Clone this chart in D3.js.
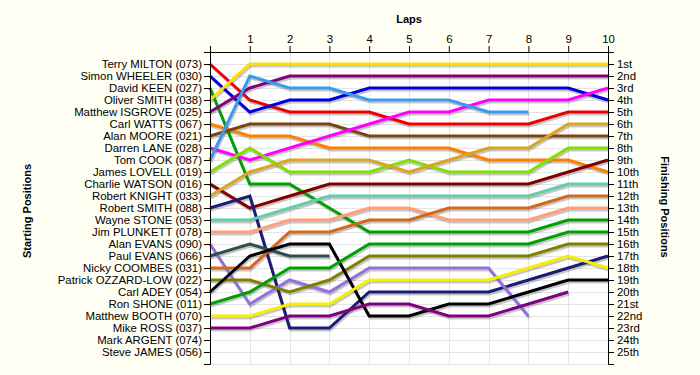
<!DOCTYPE html>
<html>
<head>
<meta charset="utf-8">
<script src="https://cdn.jsdelivr.net/npm/d3@7"></script>
<style>
body { margin: 0; background: #fefef2; }
svg { display: block; font-family: Arial, "Liberation Sans", sans-serif; }
</style>
</head>
<body>
<script>
// DRIVERS in starting order
var drivers = [
    "Terry MILTON (073)", "Simon WHEELER (030)", "David KEEN (027)", "Oliver SMITH (038)",
    "Matthew ISGROVE (025)", "Carl WATTS (067)", "Alan MOORE (021)", "Darren LANE (028)",
    "Tom COOK (087)", "James LOVELL (019)", "Charlie WATSON (016)", "Robert KNIGHT (033)",
    "Robert SMITH (088)", "Wayne STONE (053)", "Jim PLUNKETT (078)", "Alan EVANS (090)",
    "Paul EVANS (066)", "Nicky COOMBES (031)", "Patrick OZZARD-LOW (022)", "Carl ADEY (054)",
    "Ron SHONE (011)", "Matthew BOOTH (070)", "Mike ROSS (037)", "Mark ARGENT (074)",
    "Steve JAMES (056)"
];

var finishLabels = [
    "1st", "2nd", "3rd", "4th", "5th", "6th", "7th", "8th", "9th", "10th",
    "11th", "12th", "13th", "14th", "15th", "16th", "17th", "18th", "19th", "20th",
    "21st", "22nd", "23rd", "24th", "25th"
];

var laps = [0, 1, 2, 3, 4, 5, 6, 7, 8, 9, 10];

// position of each driver at the end of each lap (lap 0 = grid)
var positions = [
    [1, 4, 5, 5, 5, 6, 6, 6, 6, 5, 5],
    [2, 5, 4, 4, 3, 3, 3, 3, 3, 3, 4],
    [3, 11, 11, 13, 15, 15, 15, 15, 15, 14, 14],
    [4, 1, 1, 1, 1, 1, 1, 1, 1, 1, 1],
    [5, 3, 2, 2, 2, 2, 2, 2, 2, 2, 2],
    [6, 7, 7, 8, 8, 8, 8, 9, 9, 9, 10],
    [7, 6, 6, 6, 7, 7, 7, 7, 7, 7, 7],
    [8, 9, 8, 7, 6, 5, 5, 4, 4, 4, 3],
    [9, 2, 3, 3, 4, 4, 4, 5, 5],
    [10, 8, 10, 10, 10, 9, 10, 10, 10, 8, 8],
    [11, 13, 12, 11, 11, 11, 11, 11, 11, 10, 9],
    [12, 10, 9, 9, 9, 10, 9, 8, 8, 6, 6],
    [13, 12, 23, 23, 20, 20, 20, 20, 19, 18, 17],
    [14, 14, 13, 12, 12, 12, 12, 12, 12, 11, 11],
    [15, 15, 14, 14, 13, 13, 14, 14, 14, 13, 13],
    [16, 21, 19, 20, 18, 18, 18, 18, 22],
    [17, 16, 17, 17],
    [18, 18, 15, 15, 14, 14, 13, 13, 13, 12, 12],
    [19, 19, 20, 19, 17, 17, 17, 17, 17, 16, 16],
    [20, 17, 16, 16, 22, 22, 21, 21, 20, 19, 19],
    [21, 20, 18, 18, 16, 16, 16, 16, 16, 15, 15],
    [22, 22, 21, 21, 19, 19, 19, 19, 18, 17, 18],
    [23, 23, 22, 22, 21, 21, 22, 22, 21, 20],
    [],
    []
];

var colors = [
    "#ee0000", "#0000dd", "#00a000", "#ffdd00", "#800080", "#ff8000", "#7a4510", "#ff00ff",
    "#3a9af0", "#80e000", "#800000", "#daa520", "#1c1c78", "#66cdaa", "#ffa07a", "#9370db",
    "#2f4f4f", "#d2691e", "#808000", "#000000", "#00a000", "#f5f000", "#800080", "#000000",
    "#000000"
];

var width = 700, height = 375;

var x = d3.scaleLinear().domain([0, 10]).range([210, 608]),
    y = d3.scaleLinear().domain([0, 26]).range([52, 364]);

var svg = d3.select("body").append("svg")
    .attr("width", width)
    .attr("height", height);

// plot background
svg.append("rect")
    .attr("x", x(0))
    .attr("y", y(0))
    .attr("width", x(10) - x(0))
    .attr("height", y(26) - y(0))
    .attr("fill", "#ffffff");

// GRID
var rows = d3.range(1, 26);
var grid = svg.append("g").attr("stroke", "#e4e4e4").attr("stroke-width", 1);
grid.selectAll(".vg")
    .data(laps.slice(1, 10))
    .enter().append("line")
    .attr("x1", function(d) { return Math.round(x(d)) + 0.5; })
    .attr("x2", function(d) { return Math.round(x(d)) + 0.5; })
    .attr("y1", y(0))
    .attr("y2", y(26));
grid.selectAll(".hg")
    .data(rows.concat([26]))
    .enter().append("line")
    .attr("x1", x(0))
    .attr("x2", x(10))
    .attr("y1", function(d) { return Math.round(y(d)) + 0.5; })
    .attr("y2", function(d) { return Math.round(y(d)) + 0.5; });

// LINES
var line = d3.line()
    .x(function(d, i) { return x(laps[i]); })
    .y(function(d) { return y(d); });

var series = positions.map(function(p, i) { return {pos: p, color: colors[i]}; })
    .filter(function(s) { return s.pos.length > 1; });

svg.append("g")
    .attr("transform", "translate(1,2)")
    .selectAll("path")
    .data(series)
    .enter().append("path")
    .attr("d", function(d) { return line(d.pos); })
    .attr("fill", "none")
    .attr("stroke", "#000")
    .attr("stroke-opacity", 0.22)
    .attr("stroke-width", 3);

svg.append("g")
    .selectAll("path")
    .data(series)
    .enter().append("path")
    .attr("d", function(d) { return line(d.pos); })
    .attr("fill", "none")
    .attr("stroke", function(d) { return d.color; })
    .attr("stroke-width", 3);

// AXES
var topAxis = svg.append("g")
    .attr("transform", "translate(0," + y(0) + ")")
    .call(d3.axisTop(x).tickValues(laps).tickSizeOuter(0)
        .tickFormat(function(d) { return d === 0 ? "" : d; }));

var leftAxis = svg.append("g")
    .attr("transform", "translate(" + x(0) + ",0)")
    .call(d3.axisLeft(y).tickValues(rows).tickSizeOuter(6)
        .tickFormat(function(d) { return drivers[d - 1]; }));

var rightAxis = svg.append("g")
    .attr("transform", "translate(" + x(10) + ",0)")
    .call(d3.axisRight(y).tickValues(rows).tickSizeOuter(6)
        .tickFormat(function(d) { return finishLabels[d - 1]; }));

[topAxis, leftAxis, rightAxis].forEach(function(a) {
    a.attr("font-family", null).attr("font-size", 11.4);
    a.selectAll("text").attr("fill", "#000");
});
leftAxis.selectAll(".tick text").attr("x", -8);

// TITLES
svg.append("text")
    .attr("x", (x(0) + x(10)) / 2)
    .attr("y", 23)
    .attr("text-anchor", "middle")
    .attr("font-size", 11)
    .attr("font-weight", "bold")
    .text("Laps");

svg.append("text")
    .attr("transform", "translate(31,211) rotate(-90)")
    .attr("text-anchor", "middle")
    .attr("font-size", 11)
    .attr("font-weight", "bold")
    .text("Starting Positions");

svg.append("text")
    .attr("transform", "translate(661,207) rotate(90)")
    .attr("text-anchor", "middle")
    .attr("font-size", 11)
    .attr("font-weight", "bold")
    .text("Finishing Positions");
</script>
</body>
</html>
